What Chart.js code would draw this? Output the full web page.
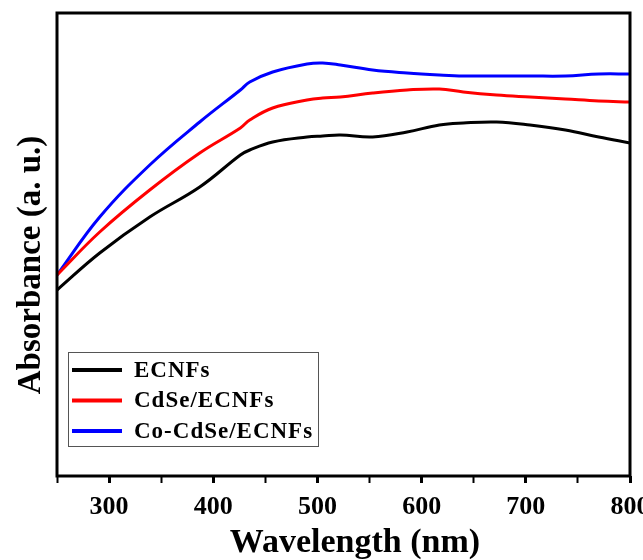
<!DOCTYPE html>
<html>
<head>
<meta charset="utf-8">
<script src="https://cdn.jsdelivr.net/npm/chart.js@4.4.1/dist/chart.umd.min.js"></script>
<style>
  html, body { margin: 0; padding: 0; background: #fff; }
  #wrap { width: 643px; height: 560px; }
</style>
</head>
<body>
<div id="wrap"><canvas id="absChart" width="643" height="560"></canvas></div>
<script>
// UV-vis absorbance spectra
const wavelengths = [250, 291, 339, 387, 426, 435, 457, 490, 505, 522, 553, 586, 617, 640, 672, 704, 738, 770, 800];
const ecnfs       = [1.86, 2.23, 2.59, 2.89, 3.21, 3.26, 3.34, 3.39, 3.40, 3.41, 3.39, 3.44, 3.51, 3.53, 3.54, 3.51, 3.46, 3.39, 3.33];
const cdse        = [2.01, 2.44, 2.86, 3.23, 3.48, 3.56, 3.68, 3.76, 3.78, 3.79, 3.83, 3.86, 3.87, 3.84, 3.81, 3.79, 3.77, 3.75, 3.74];
const coCdse      = [2.01, 2.59, 3.11, 3.54, 3.86, 3.94, 4.04, 4.12, 4.13, 4.11, 4.06, 4.03, 4.01, 4.00, 4.00, 4.00, 4.00, 4.02, 4.02];
const seriesNames = ['ECNFs', 'CdSe/ECNFs', 'Co-CdSe/ECNFs'];
const seriesColors = ['#000000', '#ff0000', '#0000ff'];
const xTicks = [300, 400, 500, 600, 700, 800];

const serif = "'Liberation Serif', 'Times New Roman', serif";

function toPoints(ys) {
  return wavelengths.map((x, i) => ({ x: x, y: ys[i] }));
}

// frame, axis titles and the boxed legend
const framePlugin = {
  id: 'frame',
  afterDraw(chart) {
    const { ctx, chartArea: a } = chart;
    ctx.save();
    ctx.strokeStyle = '#000';
    ctx.lineWidth = 3;
    ctx.strokeRect(a.left, a.top, a.right - a.left, a.bottom - a.top);

    // axis titles
    ctx.fillStyle = '#000';
    ctx.textAlign = 'center';
    ctx.textBaseline = 'alphabetic';
    ctx.font = 'bold 34px ' + serif;
    ctx.fillText('Wavelength (nm)', 355, 552);
    ctx.save();
    ctx.translate(40, 265);
    ctx.rotate(-Math.PI / 2);
    ctx.font = 'bold 33px ' + serif;
    ctx.fillText('Absorbance (a. u.)', 0, 0);
    ctx.restore();

    // legend
    const bx = a.left + 11, by = 352, bw = 250, bh = 94;
    ctx.lineWidth = 1;
    ctx.strokeStyle = '#555';
    ctx.fillStyle = '#fff';
    ctx.fillRect(bx, by, bw, bh);
    ctx.strokeRect(bx + 0.5, by + 0.5, bw, bh);
    ctx.font = 'bold 23px ' + serif;
    ctx.letterSpacing = '1px';
    ctx.textAlign = 'left';
    ctx.textBaseline = 'middle';
    chart.data.datasets.forEach((ds, i) => {
      const y = 370 + i * 30.5;
      ctx.strokeStyle = ds.borderColor;
      ctx.lineWidth = 4;
      ctx.beginPath();
      ctx.moveTo(bx + 4, y);
      ctx.lineTo(bx + 54, y);
      ctx.stroke();
      ctx.fillStyle = '#000';
      ctx.fillText(ds.label, bx + 66, y + 1);
    });
    ctx.restore();
  }
};

const absCtx = document.getElementById('absChart').getContext('2d');
const absChart = new Chart(absCtx, {
  type: 'line',
  data: {
    datasets: seriesNames.map((name, i) => ({
      label: name,
      data: toPoints([ecnfs, cdse, coCdse][i]),
      borderColor: seriesColors[i],
      borderWidth: 3,
      pointRadius: 0,
      tension: 0.4,
      fill: false
    }))
  },
  options: {
    responsive: false,
    animation: false,
    layout: { padding: { top: 13, right: 13, left: 0, bottom: 0 } },
    plugins: { legend: { display: false }, tooltip: { enabled: false } },
    scales: {
      x: {
        type: 'linear',
        min: 250,
        max: 800,
        afterFit: s => { s.height = 84; s.paddingRight = 0; s.paddingLeft = 0; },
        afterBuildTicks: s => {
          const t = [];
          for (let v = 250; v <= 800; v += 50) t.push({ value: v });
          s.ticks = t;
        },
        border: { display: false },
        grid: {
          drawOnChartArea: false,
          tickLength: 7,
          tickWidth: c => (xTicks.includes(c.tick.value) ? 3 : 2),
          color: '#000'
        },
        ticks: {
          color: '#000',
          padding: 9,
          maxRotation: 0,
          autoSkip: false,
          font: { family: serif, size: 26, weight: 'bold' },
          callback: v => (xTicks.includes(v) ? String(v) : '')
        }
      },
      y: {
        min: 0,
        max: 4.63,
        afterFit: s => { s.width = 57; },
        border: { display: false },
        grid: { display: false },
        ticks: { display: false }
      }
    }
  },
  plugins: [framePlugin]
});
</script>
</body>
</html>
